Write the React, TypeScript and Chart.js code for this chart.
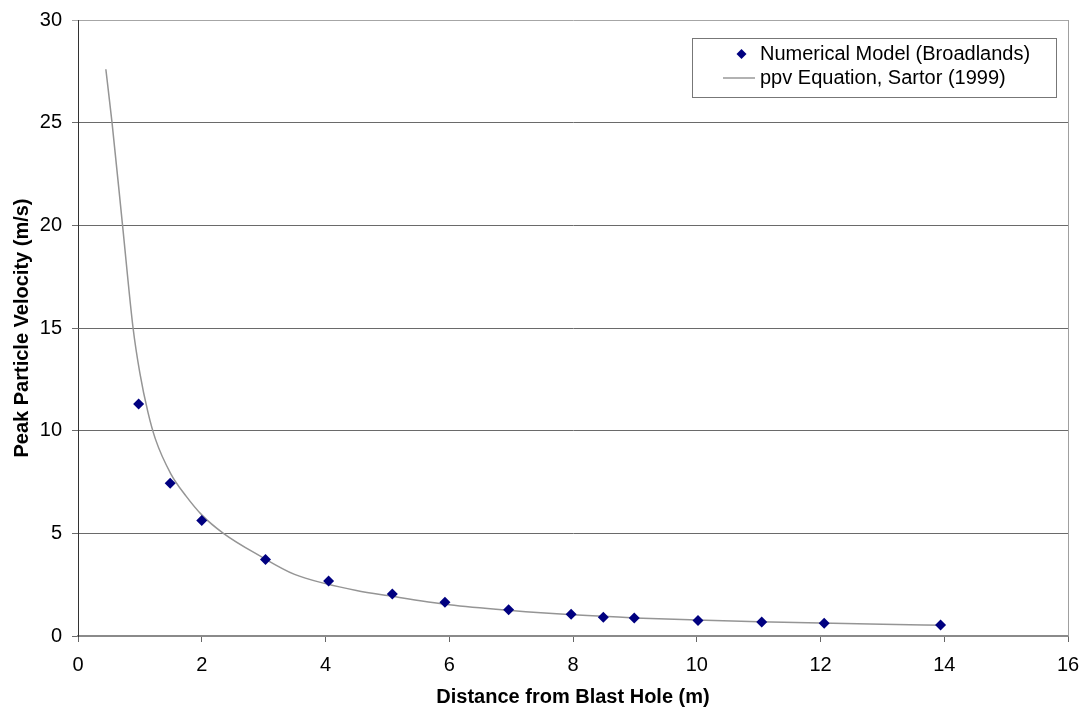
import React, { useEffect, useRef } from "react";
import { Chart, registerables } from "chart.js";

Chart.register(...registerables);

// Numerical model points (Broadlands)
const modelDistance = [0.98, 1.49, 2.0, 3.03, 4.05, 5.08, 5.93, 6.96, 7.97, 8.49, 8.99, 10.02, 11.05, 12.06, 13.94];
const modelPpv = [11.3, 7.44, 5.62, 3.73, 2.68, 2.05, 1.64, 1.28, 1.06, 0.91, 0.88, 0.75, 0.68, 0.62, 0.54];

// ppv Equation, Sartor (1999) curve
const eqDistance = [0.45, 0.55, 0.72, 0.89, 1.0, 1.13, 1.25, 1.5, 1.75, 2.0, 2.35, 2.94, 3.5, 4.0, 4.5, 5.0, 6.0, 7.0, 8.0, 9.0, 10.0, 11.0, 12.0, 13.0, 14.0];
const eqPpv = [27.6, 25.0, 20.0, 15.0, 12.8, 10.9, 9.6, 7.9, 6.8, 5.9, 5.0, 3.9, 3.0, 2.55, 2.22, 1.97, 1.52, 1.24, 1.03, 0.88, 0.78, 0.7, 0.63, 0.57, 0.52];

const seriesNames = ["Numerical Model (Broadlands)", "ppv Equation, Sartor (1999)"];
const xTitle = "Distance from Blast Hole (m)";
const yTitle = "Peak Particle Velocity (m/s)";

const FONT = "'Liberation Sans', Arial, sans-serif";

export default function App() {
  const ref = useRef<HTMLCanvasElement | null>(null);

  useEffect(() => {
    document.body.style.margin = "0";
    const canvas = ref.current;
    if (!canvas) return;

    const framePlugin = {
      id: "frameAndLegend",
      afterDraw(chart: any) {
        const { ctx, chartArea } = chart;
        ctx.save();
        // right frame line
        ctx.strokeStyle = "#a0a0a0";
        ctx.lineWidth = 1;
        ctx.beginPath();
        ctx.moveTo(Math.round(chartArea.right) + 0.5, chartArea.top);
        ctx.lineTo(Math.round(chartArea.right) + 0.5, chartArea.bottom);
        ctx.stroke();

        // legend box
        const lx = 692.5, ly = 38.5, lw = 364, lh = 59;
        ctx.fillStyle = "#ffffff";
        ctx.fillRect(lx, ly, lw, lh);
        ctx.strokeStyle = "#777777";
        ctx.strokeRect(lx, ly, lw, lh);

        // row 1: diamond
        const r1 = 54, r2 = 78;
        ctx.fillStyle = "#000080";
        ctx.beginPath();
        ctx.moveTo(741.5, r1 - 5);
        ctx.lineTo(746.5, r1);
        ctx.lineTo(741.5, r1 + 5);
        ctx.lineTo(736.5, r1);
        ctx.closePath();
        ctx.fill();
        // row 2: line sample
        ctx.strokeStyle = "#999999";
        ctx.lineWidth = 1.5;
        ctx.beginPath();
        ctx.moveTo(723, r2);
        ctx.lineTo(755, r2);
        ctx.stroke();

        ctx.fillStyle = "#000000";
        ctx.font = `20px ${FONT}`;
        ctx.textBaseline = "middle";
        ctx.textAlign = "left";
        ctx.fillText(seriesNames[0], 760, r1);
        ctx.fillText(seriesNames[1], 760, r2);
        ctx.restore();
      },
    };

    const chart = new Chart(canvas, {
      type: "scatter",
      data: {
        datasets: [
          {
            label: seriesNames[0],
            data: modelDistance.map((x, i) => ({ x, y: modelPpv[i] })),
            pointStyle: "rectRot",
            pointRadius: 5.5,
            backgroundColor: "#000080",
            borderColor: "#000080",
            borderWidth: 0,
            showLine: false,
          },
          {
            label: seriesNames[1],
            data: eqDistance.map((x, i) => ({ x, y: eqPpv[i] })),
            showLine: true,
            pointRadius: 0,
            borderColor: "#959595",
            borderWidth: 1.5,
            cubicInterpolationMode: "monotone",
            fill: false,
          },
        ],
      },
      options: {
        animation: false,
        responsive: true,
        maintainAspectRatio: false,
        layout: { padding: { top: 20, right: 19, left: 0, bottom: 0 } },
        plugins: {
          legend: { display: false },
          tooltip: { enabled: false },
        },
        scales: {
          x: {
            type: "linear",
            min: 0,
            max: 16,
            afterFit(scale: any) {
              scale.height = 74;
              scale.paddingLeft = 0;
              scale.paddingRight = 0;
            },
            ticks: {
              stepSize: 2,
              padding: 11,
              color: "#000",
              font: { family: FONT, size: 20 },
            },
            grid: {
              drawOnChartArea: false,
              drawTicks: true,
              tickLength: 6,
              color: "#666666",
            },
            border: { display: true, color: "#8a8a8a", width: 2 },
            title: {
              display: true,
              text: xTitle,
              color: "#000",
              font: { family: FONT, size: 20, weight: "bold" },
              padding: { top: 0, bottom: 1 },
            },
          },
          y: {
            type: "linear",
            min: 0,
            max: 30,
            afterFit(scale: any) {
              scale.width = 78;
              scale.paddingTop = 0;
              scale.paddingBottom = 0;
            },
            ticks: {
              stepSize: 5,
              padding: 10,
              color: "#000",
              font: { family: FONT, size: 20 },
            },
            grid: {
              drawTicks: true,
              tickLength: 6,
              lineWidth: 1,
              color: (c: any) => (c.tick && c.tick.value === 30 ? "#a6a6a6" : "#6a6a6a"),
            },
            border: { display: true, color: "#333333", width: 1 },
            title: {
              display: true,
              text: yTitle,
              color: "#000",
              font: { family: FONT, size: 20, weight: "bold" },
              padding: { top: 10, bottom: 0 },
            },
          },
        },
      },
      plugins: [framePlugin],
    } as any);

    return () => {
      chart.destroy();
    };
  }, []);

  return (
    <div style={{ position: "fixed", left: 0, top: 0, width: 1087, height: 710, background: "#fff" }}>
      <canvas ref={ref} />
    </div>
  );
}
